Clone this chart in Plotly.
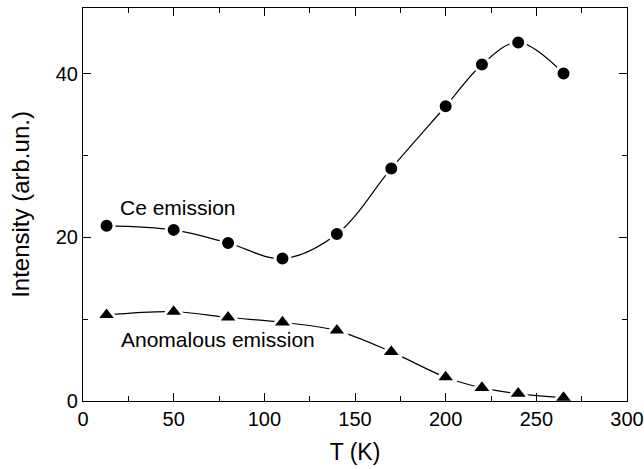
import plotly.graph_objects as go

temps = [13, 50, 80, 110, 140, 170, 200, 220, 240, 265]
ce_emission = [21.4, 20.9, 19.3, 17.4, 20.4, 28.4, 36.0, 41.1, 43.8, 40.0]
anomalous_emission = [10.5, 10.9, 10.2, 9.6, 8.6, 6.0, 2.9, 1.6, 0.9, 0.4]

FONT = "Liberation Sans, Arial, Helvetica, sans-serif"

fig = go.Figure()
fig.add_trace(go.Scatter(
    x=temps, y=ce_emission, mode="lines+markers",
    line=dict(color="black", width=1.2, shape="spline", smoothing=1.0),
    marker=dict(symbol="circle", size=15, color="black", line=dict(color="white", width=3)),
    showlegend=False,
))
fig.add_trace(go.Scatter(
    x=temps, y=anomalous_emission, mode="lines+markers",
    line=dict(color="black", width=1.2, shape="spline", smoothing=1.0),
    marker=dict(symbol="triangle-up", size=18, color="black", line=dict(color="white", width=3)),
    showlegend=False,
))

fig.add_annotation(x=19.3, y=23.6, xref="x", yref="y", text="Ce emission", showarrow=False,
                   xanchor="left", yanchor="middle", font=dict(family=FONT, size=21, color="black"))
fig.add_annotation(x=20.0, y=7.5, xref="x", yref="y", text="Anomalous emission", showarrow=False,
                   xanchor="left", yanchor="middle", font=dict(family=FONT, size=21, color="black"))

axis_common = dict(
    showgrid=False, zeroline=False, showline=True, linecolor="black", linewidth=1.2,
    mirror="ticks", ticks="inside", ticklen=8, tickwidth=1, tickcolor="black",
    tickfont=dict(family=FONT, size=20, color="black"),
    ticklabeloverflow="allow", automargin=False,
)
fig.update_xaxes(
    range=[0, 300], tickvals=[0, 50, 100, 150, 200, 250, 300],
    minor=dict(ticks="inside", ticklen=5, dtick=25, tick0=0, tickcolor="black"),
    title=dict(text="T (K)", font=dict(family=FONT, size=23, color="black"), standoff=14),
    **axis_common,
)
fig.update_yaxes(
    range=[0, 48], tickvals=[0, 20, 40],
    minor=dict(ticks="inside", ticklen=5, dtick=10, tick0=0, tickcolor="black"),
    title=dict(text="Intensity (arb.un.)", font=dict(family=FONT, size=24, color="black"), standoff=19),
    **axis_common,
)
fig.update_layout(
    width=644, height=469,
    margin=dict(l=83, r=17, t=8, b=68),
    plot_bgcolor="white", paper_bgcolor="white",
)
fig.write_html(
    "out.html",
    config={"displayModeBar": False},
    post_script="document.body.style.margin='0';document.body.style.overflow='hidden';",
)
